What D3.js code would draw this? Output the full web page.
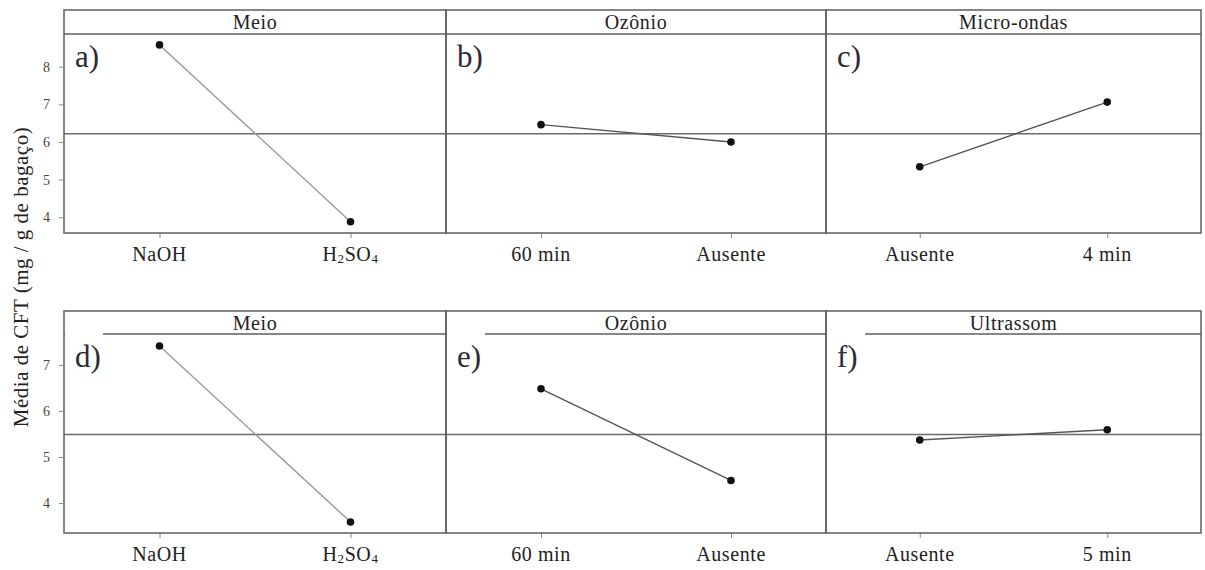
<!DOCTYPE html>
<html>
<head>
<meta charset="utf-8">
<script src="https://cdn.jsdelivr.net/npm/d3@7"></script>
<style>
  html, body { margin: 0; padding: 0; background: #fff; }
  svg { display: block; }
  svg text { font-family: "Liberation Serif", "DejaVu Serif", serif; }
</style>
</head>
<body>
<svg id="chart" width="1205" height="570"></svg>
<script>
// Main effects plot: mean CFT per factor level, two experiments (rows)
const rowTop = ["a)", "b)", "c)"];
const rowBottom = ["d)", "e)", "f)"];

const factorsTop = ["Meio", "Ozônio", "Micro-ondas"];
const factorsBottom = ["Meio", "Ozônio", "Ultrassom"];

const levelsTop = [["NaOH", "H2SO4"], ["60 min", "Ausente"], ["Ausente", "4 min"]];
const levelsBottom = [["NaOH", "H2SO4"], ["60 min", "Ausente"], ["Ausente", "5 min"]];

const meansTop = [[8.58, 3.88], [6.46, 6.00], [5.34, 7.06]];
const meansBottom = [[7.41, 3.59], [6.48, 4.49], [5.37, 5.59]];

const yTicksTop = [4, 5, 6, 7, 8];
const yTicksBottom = [4, 5, 6, 7];

const yLabel = "Média de CFT (mg / g de bagaço)";

const FONT = "'Liberation Serif', 'DejaVu Serif', serif";
const svg = d3.select("#chart").attr("font-family", FONT);

const left = 64, right = 1201;
const dividers = [left, 446, 826, right];

const rows = [
  { letters: rowTop, factors: factorsTop, levels: levelsTop, means: meansTop, ticks: yTicksTop,
    headTop: 10, plotTop: 34, plotBottom: 233, domain: [3.58, 8.87], cutHeader: false },
  { letters: rowBottom, factors: factorsBottom, levels: levelsBottom, means: meansBottom, ticks: yTicksBottom,
    headTop: 311, plotTop: 334, plotBottom: 533, domain: [3.35, 7.67], cutHeader: true }
];

const frameColor = "#5e5e5e";

rows.forEach(row => {
  const g = svg.append("g");
  const y = d3.scaleLinear().domain(row.domain).range([row.plotBottom, row.plotTop]);
  const grand = d3.mean(row.means.flat());

  // grand mean reference line across the row
  g.append("line")
    .attr("x1", left).attr("x2", right)
    .attr("y1", y(grand)).attr("y2", y(grand))
    .attr("stroke", "#6a6a6a").attr("stroke-width", 1.4);

  row.factors.forEach((factor, i) => {
    const x0 = dividers[i], x1 = dividers[i + 1];
    const x = d3.scalePoint().domain(row.levels[i]).range([x0, x1]).padding(0.5);
    const pg = g.append("g");

    // level axis
    const xAxis = d3.axisBottom(x).tickSize(5).tickFormat("");
    const ax = pg.append("g").attr("transform", `translate(0,${row.plotBottom})`).call(xAxis);
    ax.select(".domain").remove();
    ax.selectAll(".tick line").attr("stroke", "#888");

    // level labels (with chemical subscripts)
    row.levels[i].forEach(lv => {
      const t = pg.append("text")
        .attr("x", x(lv)).attr("y", row.plotBottom + 28)
        .attr("text-anchor", "middle")
        .attr("font-family", FONT)
        .attr("font-size", 20).attr("letter-spacing", 0.6).attr("fill", "#222");
      if (lv === "H2SO4") {
        t.append("tspan").text("H");
        t.append("tspan").text("2").attr("font-size", 13).attr("dy", 2);
        t.append("tspan").text("SO").attr("dy", -2);
        t.append("tspan").text("4").attr("font-size", 13).attr("dy", 2);
      } else {
        t.text(lv);
      }
    });

    // effect line and points
    const pts = row.levels[i].map((lv, k) => [x(lv), y(row.means[i][k])]);
    pg.append("path")
      .attr("d", d3.line()(pts))
      .attr("fill", "none").attr("stroke", i === 0 ? "#9a9a9a" : "#555")
      .attr("stroke-width", 1.4);
    pg.selectAll("circle").data(pts).join("circle")
      .attr("cx", d => d[0]).attr("cy", d => d[1]).attr("r", 3.8)
      .attr("fill", "#111");

    // panel frame and header strip
    pg.append("rect")
      .attr("x", x0).attr("y", row.headTop)
      .attr("width", x1 - x0).attr("height", row.plotBottom - row.headTop)
      .attr("fill", "none").attr("stroke", frameColor).attr("stroke-width", 1.5);
    pg.append("line")
      .attr("x1", x0).attr("x2", x1)
      .attr("y1", row.plotTop).attr("y2", row.plotTop)
      .attr("stroke", frameColor).attr("stroke-width", 1.5);
    pg.append("text")
      .attr("x", (x0 + x1) / 2).attr("y", row.headTop + 19)
      .attr("text-anchor", "middle")
      .attr("font-family", FONT)
      .attr("font-size", 20).attr("letter-spacing", 0.6).attr("fill", "#222")
      .text(factor);

    // panel letter
    if (row.cutHeader) {
      pg.append("rect")
        .attr("x", x0 + 1).attr("y", row.plotTop - 1)
        .attr("width", 38).attr("height", 46).attr("fill", "#fff");
    }
    pg.append("text")
      .attr("x", x0 + 11).attr("y", row.plotTop + 33)
      .attr("font-family", FONT)
      .attr("font-size", 31).attr("fill", "#2b2b38")
      .text(row.letters[i]);
  });

  // value axis on the first panel
  const yAxis = d3.axisLeft(y).tickValues(row.ticks).tickSize(5).tickPadding(9).tickFormat(d3.format("d"));
  const ay = g.append("g").attr("transform", `translate(${left},0)`).call(yAxis);
  ay.attr("font-family", FONT);
  ay.select(".domain").remove();
  ay.selectAll(".tick line").attr("stroke", "#888");
  ay.selectAll(".tick text")
    .attr("font-size", 14).attr("fill", "#444");
});

// shared y-axis title
svg.append("text")
  .attr("transform", "translate(28,277) rotate(-90)")
  .attr("text-anchor", "middle")
  .attr("font-family", FONT)
  .attr("font-size", 21).attr("letter-spacing", 0.5).attr("fill", "#222")
  .text(yLabel);
</script>
</body>
</html>
